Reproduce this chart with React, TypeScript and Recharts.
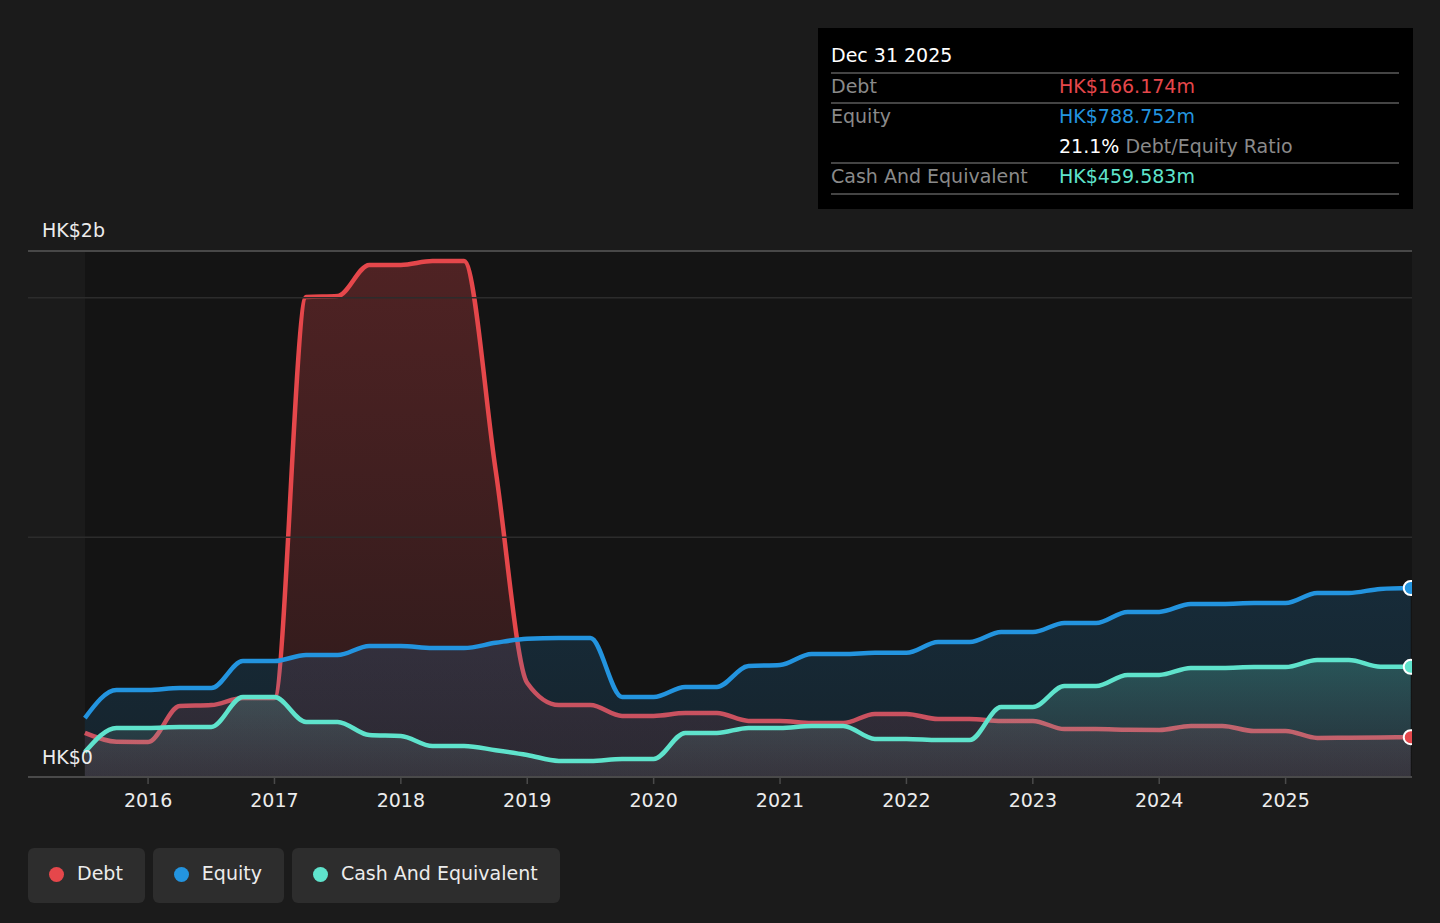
import { Area, ComposedChart, ReferenceDot, ReferenceLine, XAxis, YAxis } from 'recharts';

// quarter ends, as fractional years
const DATES = [
  2015.5, 2015.75, 2016.0, 2016.25, 2016.5, 2016.75, 2017.0, 2017.25, 2017.5, 2017.75,
  2018.0, 2018.25, 2018.5, 2018.75, 2019.0, 2019.25, 2019.5, 2019.75, 2020.0, 2020.25,
  2020.5, 2020.75, 2021.0, 2021.25, 2021.5, 2021.75, 2022.0, 2022.25, 2022.5, 2022.75,
  2023.0, 2023.25, 2023.5, 2023.75, 2024.0, 2024.25, 2024.5, 2024.75, 2025.0, 2025.25,
  2025.5, 2025.75, 2025.99,
];

// HK$ millions
const DEBT = [
  184, 147, 146, 296, 300, 330, 330, 2003, 2007, 2137,
  2137, 2153, 2153, 1280, 392, 300, 300, 255, 255, 267,
  267, 234, 234, 225, 225, 263, 263, 242, 242, 234,
  234, 200, 200, 197, 196, 213, 213, 192, 192, 163,
  164, 165, 166.174,
];

const EQUITY = [
  246, 363, 363, 371, 371, 484, 484, 509, 509, 547,
  547, 538, 538, 560, 577, 580, 580, 334, 334, 376,
  376, 463, 467, 513, 513, 518, 518, 563, 563, 605,
  605, 643, 643, 689, 689, 722, 722, 726, 726, 768,
  768, 785, 788.752,
];

const CASH = [
  104, 205, 205, 209, 209, 334, 334, 230, 230, 175,
  171, 129, 129, 112, 92, 67, 67, 75, 75, 184,
  184, 205, 205, 213, 213, 159, 159, 154, 154, 292,
  292, 380, 380, 426, 426, 455, 455, 459, 459, 488,
  488, 460, 459.583,
];

const YEAR_TICKS = [2016, 2017, 2018, 2019, 2020, 2021, 2022, 2023, 2024, 2025];
const Y_MAX = 2195;

const RED = '#e5474b';
const BLUE = '#2394df';
const TEAL = '#5fe3cc';
const FONT = '"DejaVu Sans", sans-serif';

const rows = DATES.map((date, i) => ({
  date,
  debt: DEBT[i],
  equity: EQUITY[i],
  cash: CASH[i],
}));

const last = rows[rows.length - 1];

function LegendChip({ color, label }: { color: string; label: string }) {
  return (
    <div
      style={{
        display: 'flex',
        alignItems: 'center',
        height: 55,
        padding: '0 22px 0 21px',
        background: '#2d2d2d',
        borderRadius: 6,
        marginRight: 8,
        color: '#ececec',
        fontSize: 19,
        boxSizing: 'border-box',
      }}
    >
      <span
        style={{ width: 15, height: 15, borderRadius: '50%', background: color, marginRight: 13, marginTop: -2 }}
      />
      <span style={{ position: 'relative', top: -3 }}>{label}</span>
    </div>
  );
}

const tipLine = (top: number) => (
  <div
    style={{ position: 'absolute', left: 13, right: 14, top, height: 1.5, background: '#444' }}
  />
);

const axisText = (top: number, text: string) => (
  <div
    style={{
      position: 'absolute',
      left: 42,
      top,
      color: '#ececec',
      fontSize: 19,
      lineHeight: '24px',
    }}
  >
    {text}
  </div>
);

export default function App() {
  return (
    <div
      style={{
        position: 'absolute',
        left: 0,
        top: 0,
        width: 1440,
        height: 923,
        background: '#1b1b1b',
        fontFamily: FONT,
        overflow: 'hidden',
      }}
    >
      {/* darker band behind the data range */}
      <div
        style={{
          position: 'absolute',
          left: 85,
          top: 252,
          width: 1327,
          height: 525,
          background: '#141414',
        }}
      />

      <div style={{ position: 'absolute', left: 0, top: 0 }}>
        <ComposedChart
          width={1440}
          height={923}
          data={rows}
          margin={{ top: 251, right: 28, bottom: 116, left: 28 }}
        >
          <defs>
            <linearGradient id="debtFill" x1="0" y1="0" x2="0" y2="1">
              <stop offset="0%" stopColor={RED} stopOpacity={0.47} />
              <stop offset="100%" stopColor={RED} stopOpacity={0.2} />
            </linearGradient>
            <linearGradient id="equityFill" x1="0" y1="0" x2="0" y2="1">
              <stop offset="0%" stopColor={BLUE} stopOpacity={0.3} />
              <stop offset="100%" stopColor={BLUE} stopOpacity={0.2} />
            </linearGradient>
            <linearGradient id="cashFill" x1="0" y1="0" x2="0" y2="1">
              <stop offset="0%" stopColor={TEAL} stopOpacity={0.4} />
              <stop offset="100%" stopColor="#a8b8b8" stopOpacity={0.14} />
            </linearGradient>
          </defs>
          <XAxis
            dataKey="date"
            type="number"
            domain={[2015.05, 2026]}
            ticks={YEAR_TICKS}
            tickFormatter={(v) => String(v)}
            height={30}
            axisLine={{ stroke: '#4a4a4a', strokeWidth: 2 }}
            tickLine={{ stroke: '#4a4a4a', strokeWidth: 1.5 }}
            tickSize={7}
            tickMargin={10}
            tick={{ fill: '#ececec', fontSize: 19, fontFamily: FONT }}
            allowDataOverflow
          />
          <YAxis type="number" domain={[0, Y_MAX]} hide allowDataOverflow />
          <ReferenceLine y={1000} stroke="#2c2c2c" strokeWidth={1.5} />
          <ReferenceLine y={2000} stroke="#2c2c2c" strokeWidth={1.5} />
          <ReferenceLine y={Y_MAX} stroke="#484848" strokeWidth={2} />
          <Area
            type="monotone"
            dataKey="debt"
            stroke={RED}
            strokeWidth={4.5}
            fill="url(#debtFill)"
            dot={false}
            activeDot={false}
            isAnimationActive={false}
          />
          <Area
            type="monotone"
            dataKey="equity"
            stroke={BLUE}
            strokeWidth={4.5}
            fill="url(#equityFill)"
            dot={false}
            activeDot={false}
            isAnimationActive={false}
          />
          <Area
            type="monotone"
            dataKey="cash"
            stroke={TEAL}
            strokeWidth={4.5}
            fill="url(#cashFill)"
            dot={false}
            activeDot={false}
            isAnimationActive={false}
          />
          <ReferenceDot x={last.date} y={last.debt} r={7} fill={RED} stroke="#fff" strokeWidth={2} ifOverflow="hidden" />
          <ReferenceDot x={last.date} y={last.equity} r={7} fill={BLUE} stroke="#fff" strokeWidth={2} ifOverflow="hidden" />
          <ReferenceDot x={last.date} y={last.cash} r={7} fill={TEAL} stroke="#fff" strokeWidth={2} ifOverflow="hidden" />
        </ComposedChart>
      </div>

      {axisText(218, 'HK$2b')}
      {axisText(745, 'HK$0')}

      {/* tooltip panel */}
      <div
        style={{
          position: 'absolute',
          left: 818,
          top: 28,
          width: 595,
          height: 181,
          background: '#000',
          fontSize: 19,
          lineHeight: '24px',
        }}
      >
        <div style={{ position: 'absolute', left: 13, top: 15, color: '#fff' }}>Dec 31 2025</div>
        {tipLine(44)}
        <div style={{ position: 'absolute', left: 13, top: 46, color: '#8a8a8a' }}>Debt</div>
        <div style={{ position: 'absolute', left: 241, top: 46, color: RED }}>HK$166.174m</div>
        {tipLine(74)}
        <div style={{ position: 'absolute', left: 13, top: 76, color: '#8a8a8a' }}>Equity</div>
        <div style={{ position: 'absolute', left: 241, top: 76, color: BLUE }}>HK$788.752m</div>
        <div style={{ position: 'absolute', left: 241, top: 106, color: '#8a8a8a' }}>
          <span style={{ color: '#fff' }}>21.1%</span> Debt/Equity Ratio
        </div>
        {tipLine(134)}
        <div style={{ position: 'absolute', left: 13, top: 136, color: '#8a8a8a' }}>
          Cash And Equivalent
        </div>
        <div style={{ position: 'absolute', left: 241, top: 136, color: TEAL }}>HK$459.583m</div>
        {tipLine(165)}
      </div>

      {/* legend */}
      <div style={{ position: 'absolute', left: 28, top: 848, display: 'flex' }}>
        <LegendChip color={RED} label="Debt" />
        <LegendChip color={BLUE} label="Equity" />
        <LegendChip color={TEAL} label="Cash And Equivalent" />
      </div>
    </div>
  );
}
